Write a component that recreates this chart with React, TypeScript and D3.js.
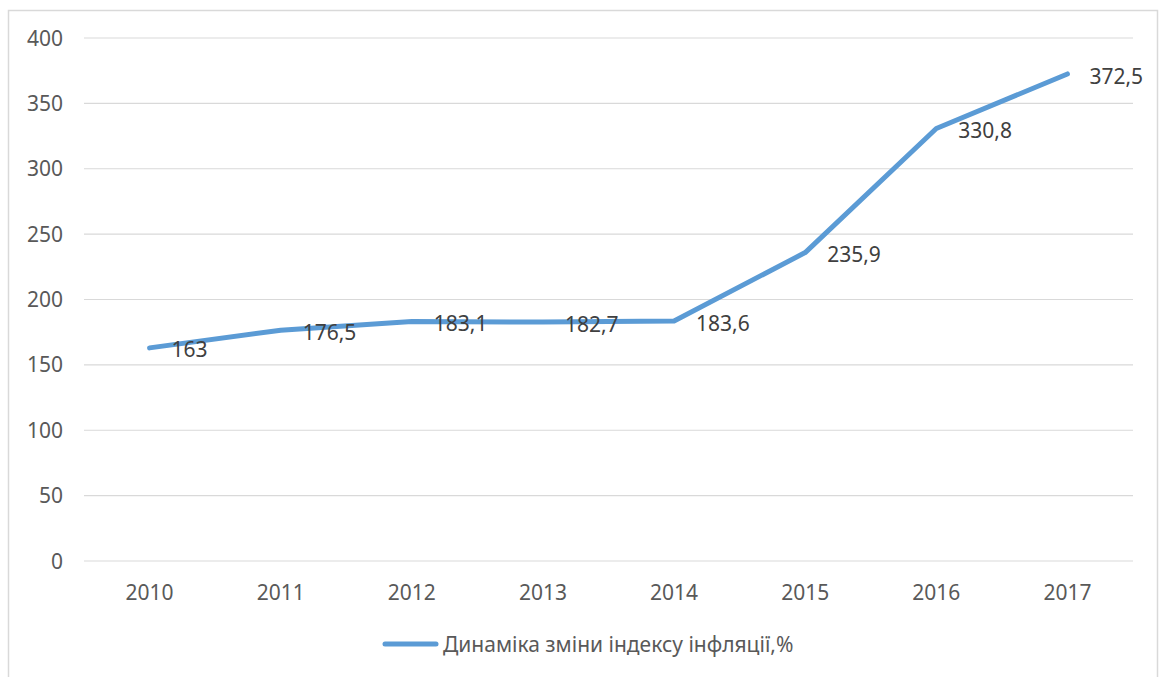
import React from 'react';
import * as d3 from 'd3';

const years = ['2010', '2011', '2012', '2013', '2014', '2015', '2016', '2017'];
const inflation = [163, 176.5, 183.1, 182.7, 183.6, 235.9, 330.8, 372.5];
const yTicks = [0, 50, 100, 150, 200, 250, 300, 350, 400];
const seriesName = 'Динаміка зміни індексу інфляції,%';

const W = 1161;
const H = 677;
const font = '"Noto Sans", "Open Sans", sans-serif';

const App = () => {
  const x = d3.scaleBand().domain(years).range([84, 1133]);
  const y = d3.scaleLinear().domain([0, 400]).range([561, 38]);
  const cx = (d: string) => (x(d) as number) + x.bandwidth() / 2;

  const line = d3.line<number>()
    .x((d, i) => cx(years[i]))
    .y(d => y(d));

  const fmt = (v: number) => String(v).replace('.', ',');

  return (
    <svg width={W} height={H} style={{ position: 'absolute', left: 0, top: 0 }}>
      <rect x={0} y={0} width={W} height={H} fill="#fff" />
      {/* chart frame */}
      <path d={`M8.5,${H} V10.5 H1157.5 V${H}`} fill="none" stroke="#d9d9d9" strokeWidth={1.5} />

      {/* gridlines + y labels */}
      {yTicks.map(t => (
        <g key={t}>
          <line x1={84} x2={1133} y1={y(t)} y2={y(t)} stroke="#d9d9d9" strokeWidth={1.2} />
          <text x={63} y={y(t)} dy="0.36em" textAnchor="end" fontFamily={font} fontSize={21} fill="#595959">{t}</text>
        </g>
      ))}

      {/* x labels */}
      {years.map(d => (
        <text key={d} x={cx(d)} y={592} dy="0.36em" textAnchor="middle" fontFamily={font} fontSize={21} fill="#595959">{d}</text>
      ))}

      <path d={line(inflation) as string} fill="none" stroke="#5b9bd5" strokeWidth={5} strokeLinejoin="round" strokeLinecap="round" />

      {/* data labels */}
      {inflation.map((v, i) => (
        <text key={i} x={cx(years[i]) + 22} y={y(v) + 2} dy="0.36em" fontFamily={font} fontSize={21} fill="#404040">{fmt(v)}</text>
      ))}

      {/* legend */}
      <line x1={385} x2={436} y1={644} y2={644} stroke="#5b9bd5" strokeWidth={5} strokeLinecap="round" />
      <text x={443} y={644} dy="0.36em" fontFamily={font} fontSize={21} fill="#595959">{seriesName}</text>
    </svg>
  );
};

export default App;
